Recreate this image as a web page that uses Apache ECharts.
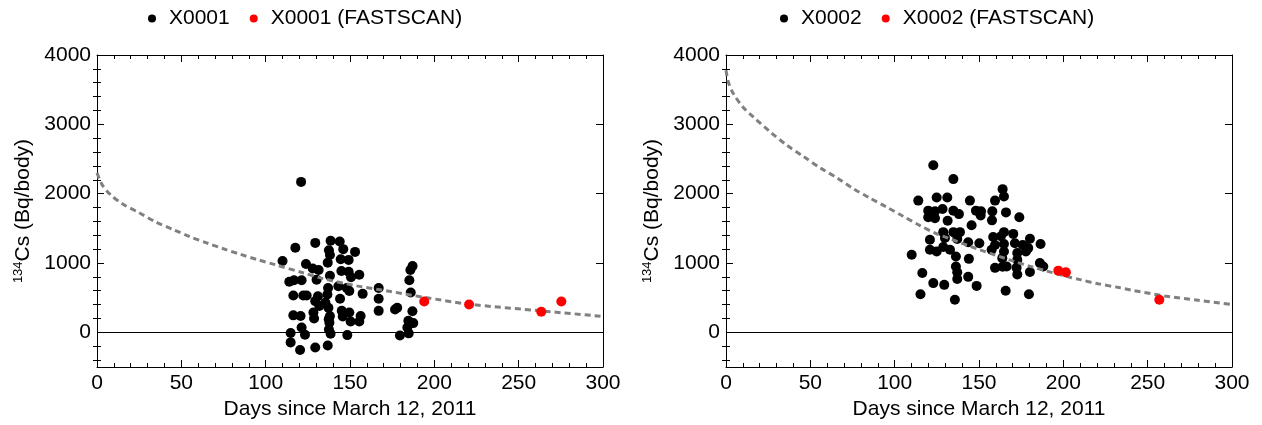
<!DOCTYPE html>
<html><head><meta charset="utf-8">
<script src="https://cdn.jsdelivr.net/npm/echarts@6/dist/echarts.min.js"></script>
<style>html,body{margin:0;padding:0;background:#fff}#c{width:1262px;height:425px}</style>
</head><body><div id="c"></div>
<script>
// ---- data: [days since March 12 2011, 134Cs Bq/body] ----
const x0001Black = [[121,2170],[110,1030],[117.6,1220],[129.4,1290],[138.5,1320],[143.9,1310],[137.5,1185],[146,1200],[153,1160],[138.1,1115],[144.5,1055],[149.2,1045],[123.9,985],[136.8,1005],[127.9,920],[131.4,900],[144.9,885],[149.2,875],[138.1,815],[155.5,830],[150.6,795],[114,730],[116.8,750],[121.3,750],[130.2,760],[143.1,665],[148.1,640],[137,640],[149.6,595],[116.4,530],[122.3,530],[124.3,530],[131,520],[136.6,545],[157.5,555],[144.1,485],[129.4,450],[135.4,425],[131.8,380],[137.2,355],[128.3,285],[145.1,310],[149.6,285],[156.3,235],[138.1,235],[116.4,245],[120.7,235],[145.7,230],[128.7,200],[137.4,190],[150.4,155],[155.5,155],[137.8,140],[121.3,70],[137.5,40],[138.5,-20],[114.8,-10],[123.3,-35],[148.4,-40],[114.8,-145],[120.4,-255],[129.4,-220],[136.8,-190],[167,640],[167,485],[167,310],[176.7,330],[178,355],[179.6,-45],[184.8,-15],[187.1,955],[185.8,900],[185.2,750],[186,575],[187,305],[184.6,167],[187.5,133],[184,71]];
const x0001Fast = [[194,445],[220.6,402],[263.4,296],[275.3,445]];
const x0001Fit = [[0,2300],[3,2130],[8,1985],[15,1855],[25,1725],[35,1590],[45,1485],[55,1380],[65,1290],[75,1205],[85,1125],[95,1050],[105,980],[122,860],[134,775],[154,670],[174,590],[194,505],[221,405],[263,310],[300,230]];
const x0002Black = [[122.9,2410],[134.8,2210],[114,1900],[124.9,1945],[131.2,1945],[144.6,1900],[159.5,1900],[164,2065],[164.8,1960],[119.9,1755],[123.9,1745],[128.4,1780],[134.8,1755],[138.1,1705],[148.2,1755],[151.2,1745],[157.9,1745],[166,1730],[173.9,1660],[119.9,1660],[123.9,1645],[131.4,1610],[151,1685],[157.7,1615],[145.6,1545],[128.8,1445],[134.8,1445],[138.7,1445],[164.8,1445],[170.3,1420],[158.4,1375],[163,1385],[120.9,1335],[129.8,1360],[137.1,1345],[143.6,1300],[150.2,1285],[180.2,1350],[186.5,1275],[171.3,1285],[175.9,1260],[159.5,1260],[164.8,1275],[120.9,1190],[124.9,1165],[128.8,1230],[132.8,1190],[136.3,1095],[144,1060],[157.5,1190],[164.8,1165],[172.7,1145],[177.8,1165],[179.2,1215],[110.1,1120],[163.8,1070],[172.7,1045],[136.3,950],[159.5,930],[164,945],[166.4,950],[172.3,930],[186.1,1000],[188.1,950],[116.4,855],[137.1,865],[180.2,870],[172.7,835],[137.1,770],[143.6,800],[122.9,710],[129.4,685],[148.6,670],[115.3,550],[135.7,470],[165.8,600],[179.6,550]];
const x0002Fast = [[197,890],[201.5,865],[256.9,470]];
const x0002Fit = [[0,3780],[1.4,3610],[4.3,3445],[10,3250],[16,3110],[26,2895],[36,2700],[46,2535],[56,2370],[66,2225],[75,2080],[85,1940],[95,1810],[105,1675],[115,1540],[125,1420],[131,1365],[150,1195],[170,1030],[180,955],[190,885],[200,818],[210,760],[220,703],[233,646],[240,611],[260,525],[280,463],[300,400]];
const panelNames = ['X0001','X0002'];
const yMajorTicks = [0,1000,2000,3000,4000];
const yMinorTicks = [-400,-200,200,400,600,800,1200,1400,1600,1800,2200,2400,2600,2800,3200,3400,3600,3800];

const FONT = "'Liberation Sans', Arial, Helvetica, sans-serif";
const panels = [
  {black:x0001Black, fast:x0001Fast, fit:x0001Fit, name:panelNames[0], left:97, legendLeft:148},
  {black:x0002Black, fast:x0002Fast, fit:x0002Fit, name:panelNames[1], left:726, legendLeft:780}
];
const lineStyle = {color:'#000', width:1};
const xAxes = [], yAxes = [], series = [], legends = [];
panels.forEach((p, g) => {
  const xBase = {gridIndex:g, type:'value', min:0, max:300, interval:50,
    axisLine:{show:true, onZero:false, lineStyle},
    axisTick:{show:true, inside:true, length:7, lineStyle},
    minorTick:{show:true, splitNumber:5, length:4, lineStyle},
    splitLine:{show:false}, minorSplitLine:{show:false}};
  xAxes.push(Object.assign({}, xBase, {position:'bottom',
    axisLabel:{color:'#000', fontSize:21, fontFamily:FONT, margin:6},
    name:'Days since March 12, 2011', nameLocation:'middle', nameGap:32,
    nameTextStyle:{color:'#000', fontSize:21, fontFamily:FONT}}));
  xAxes.push(Object.assign({}, xBase, {position:'top', axisLabel:{show:false}}));
  const yBase = {gridIndex:g, type:'value', min:-500, max:4000, splitLine:{show:false}};
  yAxes.push(Object.assign({}, yBase, {position:'left',
    axisLine:{show:true, onZero:false, lineStyle},
    axisTick:{show:true, inside:true, length:7, lineStyle, customValues:yMajorTicks},
    axisLabel:{color:'#000', fontSize:21, fontFamily:FONT, margin:6, customValues:yMajorTicks,
      formatter: v => String(v)},
    name:'{sup|134}{main|Cs (Bq/body)}', nameLocation:'middle', nameGap:63, nameRotate:90,
    nameTextStyle:{color:'#000', fontFamily:FONT, rich:{
      sup:{fontSize:13, fontFamily:FONT, color:'#000', verticalAlign:'bottom', padding:[0,0,9,0]},
      main:{fontSize:21, fontFamily:FONT, color:'#000', verticalAlign:'bottom'}}}}));
  yAxes.push(Object.assign({}, yBase, {position:'left',
    axisLine:{show:false}, axisLabel:{show:false},
    axisTick:{show:true, inside:true, length:4, lineStyle, customValues:yMinorTicks}}));
  yAxes.push(Object.assign({}, yBase, {position:'right',
    axisLine:{show:true, onZero:false, lineStyle}, axisLabel:{show:false},
    axisTick:{show:true, inside:true, length:7, lineStyle, customValues:yMajorTicks}}));
  yAxes.push(Object.assign({}, yBase, {position:'right',
    axisLine:{show:false}, axisLabel:{show:false},
    axisTick:{show:true, inside:true, length:4, lineStyle, customValues:yMinorTicks}}));
  const xi = g*2, yi = g*4;
  series.push({type:'scatter', name:p.name, xAxisIndex:xi, yAxisIndex:yi, data:p.black,
    symbolSize:10, itemStyle:{color:'#000', opacity:1}, emphasis:{disabled:true},
    markLine:{silent:true, symbol:['none','none'], label:{show:false}, animation:false,
      lineStyle:{color:'#000', width:1, type:'solid'}, data:[{yAxis:0}]}});
  series.push({type:'line', name:p.name+' fit', xAxisIndex:xi, yAxisIndex:yi, data:p.fit,
    smooth:0.3, showSymbol:false, silent:true,
    lineStyle:{color:'#808080', width:3, type:[6,4]}, z:3});
  series.push({type:'scatter', name:p.name+' (FASTSCAN)', xAxisIndex:xi, yAxisIndex:yi, data:p.fast,
    symbolSize:10, itemStyle:{color:'#ff0000', opacity:1}, emphasis:{disabled:true}, z:4});
  legends.push({data:[p.name, p.name+' (FASTSCAN)'], left:p.legendLeft, top:8, padding:0,
    itemWidth:24, itemHeight:8, itemGap:20, icon:'circle', selectedMode:false,
    textStyle:{fontSize:21, color:'#000', fontFamily:FONT}});
});
const chart = echarts.init(document.getElementById('c'));
chart.setOption({
  animation:false, backgroundColor:'#fff',
  grid: panels.map(p => ({left:p.left, top:55, width:506, height:313})),
  legend: legends, xAxis: xAxes, yAxis: yAxes, series
});
</script></body></html>
